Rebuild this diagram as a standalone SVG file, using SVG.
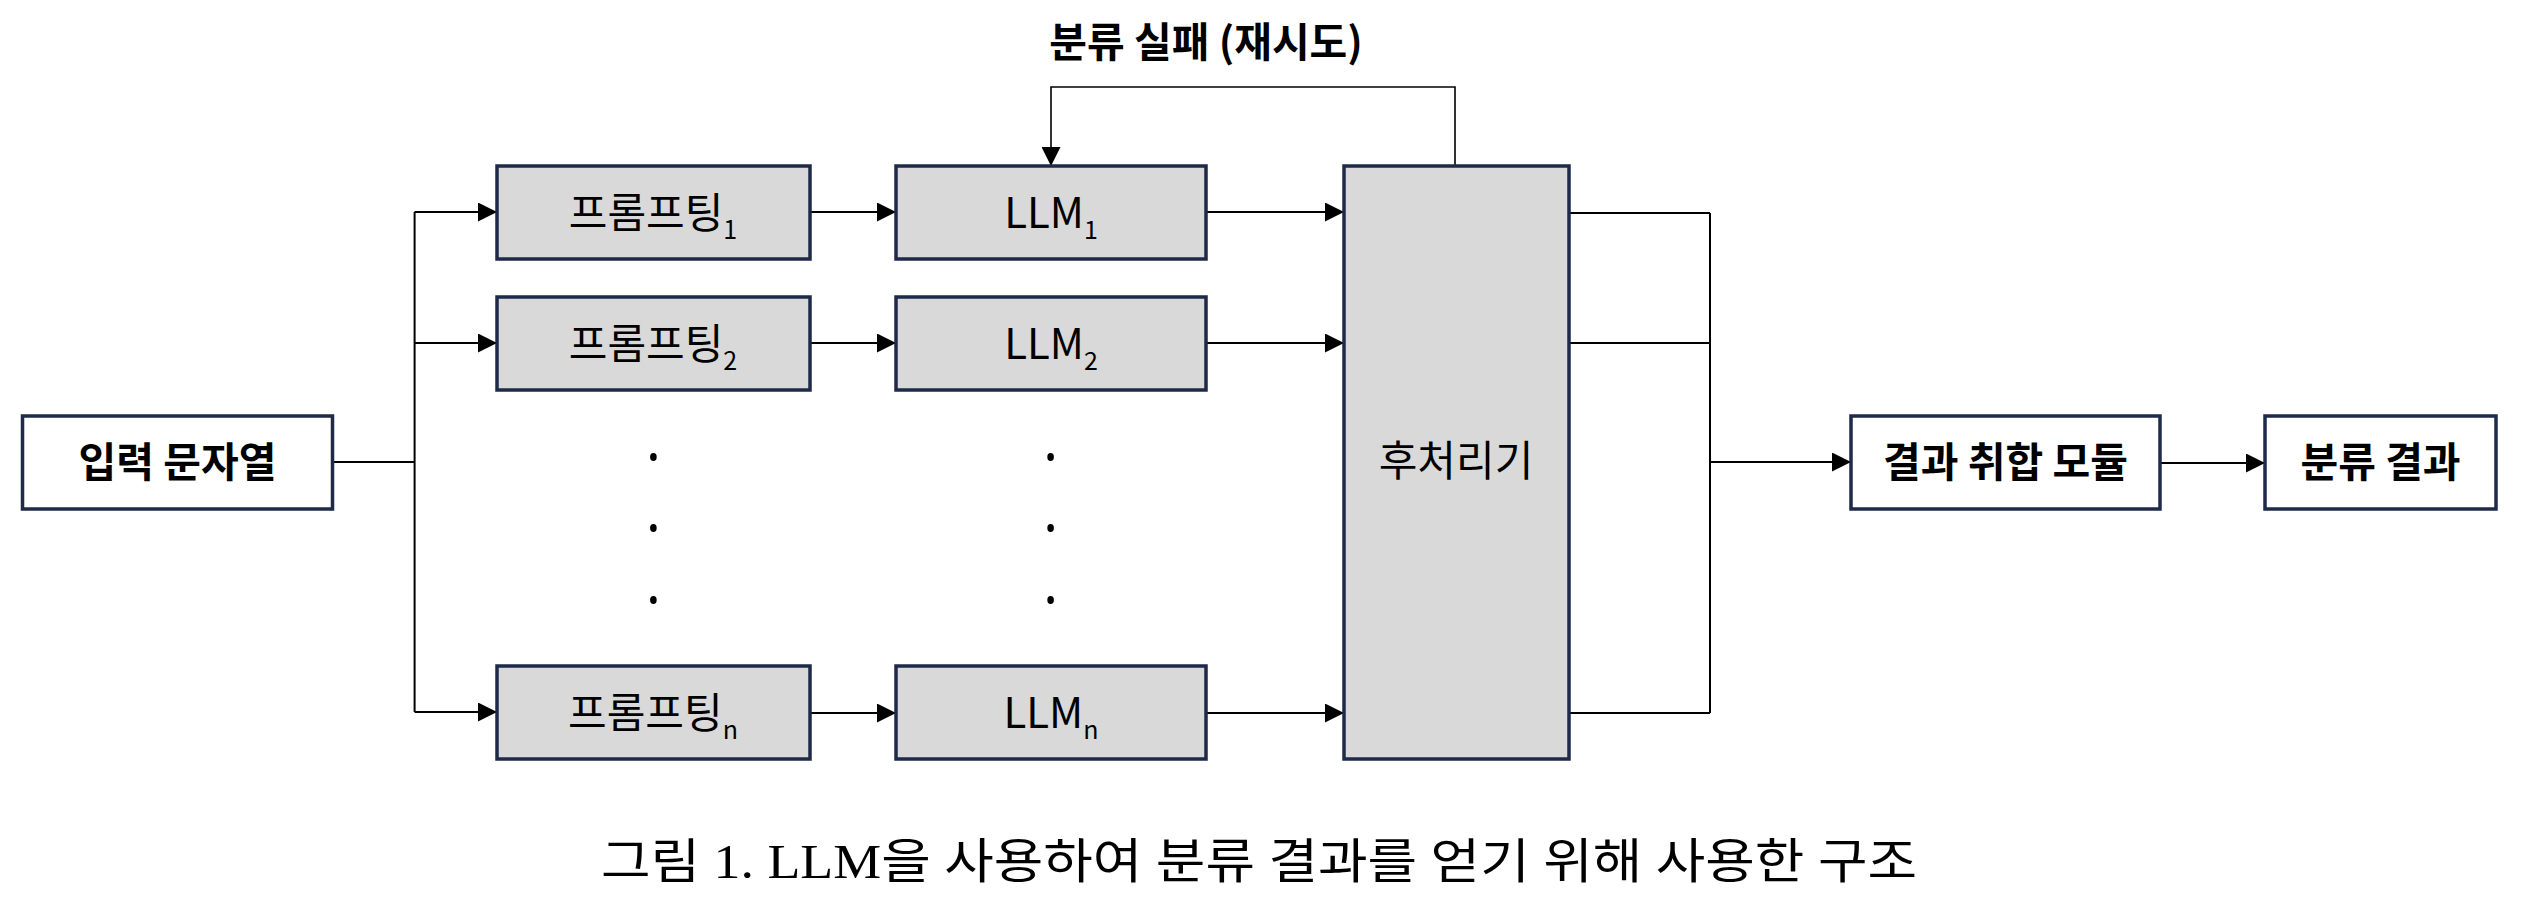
<svg xmlns="http://www.w3.org/2000/svg" width="2530" height="918" viewBox="0 0 2530 918">
<style>
.box{stroke:#1f2a48;stroke-width:3.5}
.gray{fill:#d9d9d9}
.white{fill:#ffffff}
.t{font-family:"Noto Sans CJK KR","Noto Sans",sans-serif;font-size:41px;fill:#000;text-anchor:middle}
.b{font-weight:bold}
.r{font-size:42px}
.sub{font-size:25px}
.ln{fill:none;stroke:#000;stroke-width:2}
.thin{stroke-width:1.6}
.dot{fill:#000}
.cap{font-family:"Liberation Serif","Noto Sans CJK KR",serif;font-size:48px;fill:#000}
</style>
<defs>
<marker id="ah" markerUnits="userSpaceOnUse" markerWidth="19" markerHeight="19" refX="19" refY="9.5" orient="auto">
<path d="M0,0 L19,9.5 L0,19 Z" fill="#000"/>
</marker>
</defs>

<g id="connectors">
<path class="ln" d="M332.5,462 H414.6"/>
<path class="ln" d="M414.6,212 V712"/>
<path class="ln" d="M414.6,212 H497" marker-end="url(#ah)"/>
<path class="ln" d="M414.6,343 H497" marker-end="url(#ah)"/>
<path class="ln" d="M414.6,712 H497" marker-end="url(#ah)"/>
<path class="ln" d="M810,212 H896" marker-end="url(#ah)"/>
<path class="ln" d="M810,343 H896" marker-end="url(#ah)"/>
<path class="ln" d="M810,713 H896" marker-end="url(#ah)"/>
<path class="ln" d="M1206,212 H1344" marker-end="url(#ah)"/>
<path class="ln" d="M1206,343 H1344" marker-end="url(#ah)"/>
<path class="ln" d="M1206,713 H1344" marker-end="url(#ah)"/>
<path class="ln" d="M1569,213 H1710 M1569,343 H1710 M1569,713 H1710 M1710,213 V713"/>
<path class="ln" d="M1710,462 H1851" marker-end="url(#ah)"/>
<path class="ln" d="M2160,463 H2265" marker-end="url(#ah)"/>
<path class="ln thin" d="M1455,166 V87 H1051 V166" marker-end="url(#ah)"/>
</g>

<text id="retry-label" class="t b" x="1206" y="57">분류 실패 (재시도)</text>

<g id="input">
<rect class="box white" x="22.5" y="416" width="310" height="93"/>
<text class="t b" x="177.5" y="476.5">입력 문자열</text>
</g>

<g id="prompt1">
<rect class="box gray" x="497" y="166" width="313" height="93"/>
<text class="t r" x="653" y="228">프롬프팅<tspan class="sub" dy="11">1</tspan></text>
</g>
<g id="prompt2">
<rect class="box gray" x="497" y="297" width="313" height="93"/>
<text class="t r" x="653" y="359">프롬프팅<tspan class="sub" dy="11">2</tspan></text>
</g>
<g id="promptn">
<rect class="box gray" x="497" y="666" width="313" height="93"/>
<text class="t r" x="653" y="728">프롬프팅<tspan class="sub" dy="11">n</tspan></text>
</g>

<g id="llm1">
<rect class="box gray" x="896" y="166" width="310" height="93"/>
<text class="t r" x="1051" y="228">LLM<tspan class="sub" dy="11">1</tspan></text>
</g>
<g id="llm2">
<rect class="box gray" x="896" y="297" width="310" height="93"/>
<text class="t r" x="1051" y="359">LLM<tspan class="sub" dy="11">2</tspan></text>
</g>
<g id="llmn">
<rect class="box gray" x="896" y="666" width="310" height="93"/>
<text class="t r" x="1051" y="728">LLM<tspan class="sub" dy="11">n</tspan></text>
</g>

<g id="ellipsis">
<ellipse class="dot" cx="653.4" cy="457" rx="3.3" ry="4"/>
<ellipse class="dot" cx="653.4" cy="528" rx="3.3" ry="4"/>
<ellipse class="dot" cx="653.4" cy="600" rx="3.3" ry="4"/>
<ellipse class="dot" cx="1050.6" cy="457" rx="3.3" ry="4"/>
<ellipse class="dot" cx="1050.6" cy="528" rx="3.3" ry="4"/>
<ellipse class="dot" cx="1050.6" cy="600" rx="3.3" ry="4"/>
</g>

<g id="postprocessor">
<rect class="box gray" x="1344" y="166" width="225" height="593"/>
<text class="t r" x="1456" y="476">후처리기</text>
</g>

<g id="aggregator">
<rect class="box white" x="1851" y="416" width="309" height="93"/>
<text class="t b" x="2005.5" y="476.5">결과 취합 모듈</text>
</g>

<g id="result">
<rect class="box white" x="2265" y="416" width="231" height="93"/>
<text class="t b" x="2380.5" y="476.5">분류 결과</text>
</g>

<text id="caption" class="cap" x="601" y="878" textLength="1316" lengthAdjust="spacingAndGlyphs">그림 1. LLM을 사용하여 분류 결과를 얻기 위해 사용한 구조</text>
</svg>
